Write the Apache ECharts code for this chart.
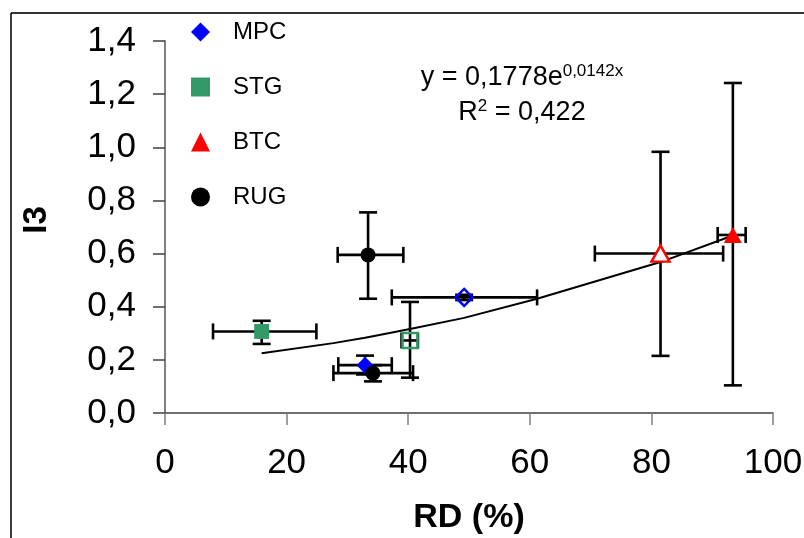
<!DOCTYPE html>
<html>
<head>
<meta charset="utf-8">
<script src="https://cdn.jsdelivr.net/npm/echarts@6/dist/echarts.min.js"></script>
<style>
html,body{margin:0;padding:0;background:#fff;}
#chart{width:804px;height:538px;}
</style>
</head>
<body>
<div id="chart"></div>
<script>
// ---- data ----
const seriesNames = ['MPC', 'STG', 'BTC', 'RUG'];
const xTicks = [0, 20, 40, 60, 80, 100];
const yTicks = [0, 0.2, 0.4, 0.6, 0.8, 1.0, 1.2, 1.4];

const MPC_RD    = [32.9, 49.2];
const MPC_I3    = [0.18, 0.435];
const MPC_RD_LO = [28.5, 37.3];
const MPC_RD_HI = [37.3, 61.2];
const MPC_I3_LO = [0.145, 0.425];
const MPC_I3_HI = [0.216, 0.445];
const MPC_FILLED = [true, false];

const STG_RD    = [15.9, 40.3];
const STG_I3    = [0.307, 0.273];
const STG_RD_LO = [7.9, 38.9];
const STG_RD_HI = [24.9, 41.6];
const STG_I3_LO = [0.26, 0.133];
const STG_I3_HI = [0.347, 0.418];
const STG_FILLED = [true, false];

const BTC_RD    = [81.5, 93.4];
const BTC_I3    = [0.60, 0.67];
const BTC_RD_LO = [70.7, 90.9];
const BTC_RD_HI = [91.8, 95.5];
const BTC_I3_LO = [0.215, 0.104];
const BTC_I3_HI = [0.983, 1.242];
const BTC_FILLED = [false, true];

const RUG_RD    = [33.4, 34.2];
const RUG_I3    = [0.595, 0.150];
const RUG_RD_LO = [28.4, 27.7];
const RUG_RD_HI = [39.2, 40.8];
const RUG_I3_LO = [0.43, 0.119];
const RUG_I3_HI = [0.755, 0.18];
const RUG_FILLED = [true, true];

// trend line (exponential fit) points
const TREND_RD = [15.9, 27.7, 32.9, 34.2, 40.3, 49.2, 61.2, 81.5, 93.4];
const TREND_I3 = [0.225, 0.263, 0.283, 0.289, 0.316, 0.358, 0.430, 0.568, 0.668];

const equationText = ['y = 0,1778e', '0,0142x'];
const r2Text = ['R', '2', ' = 0,422'];

// ---- build ----
const groups = {
  MPC: {rd: MPC_RD, i3: MPC_I3, rdLo: MPC_RD_LO, rdHi: MPC_RD_HI, i3Lo: MPC_I3_LO, i3Hi: MPC_I3_HI, filled: MPC_FILLED},
  STG: {rd: STG_RD, i3: STG_I3, rdLo: STG_RD_LO, rdHi: STG_RD_HI, i3Lo: STG_I3_LO, i3Hi: STG_I3_HI, filled: STG_FILLED},
  BTC: {rd: BTC_RD, i3: BTC_I3, rdLo: BTC_RD_LO, rdHi: BTC_RD_HI, i3Lo: BTC_I3_LO, i3Hi: BTC_I3_HI, filled: BTC_FILLED},
  RUG: {rd: RUG_RD, i3: RUG_I3, rdLo: RUG_RD_LO, rdHi: RUG_RD_HI, i3Lo: RUG_I3_LO, i3Hi: RUG_I3_HI, filled: RUG_FILLED}
};
const styleOf = {
  MPC: {symbol: 'diamond', size: [17, 17], color: '#0000FF', openFill: 'rgba(255,255,255,0)'},
  STG: {symbol: 'rect', size: [15, 15], color: '#339966', openFill: 'rgba(255,255,255,0)'},
  BTC: {symbol: 'triangle', size: [18, 16], color: '#FF0000', openFill: '#ffffff'},
  RUG: {symbol: 'circle', size: [15, 15], color: '#000000', openFill: '#ffffff'}
};

const errData = [];
seriesNames.forEach(n => {
  const g = groups[n];
  g.rd.forEach((x, i) => errData.push([x, g.i3[i], g.rdLo[i], g.rdHi[i], g.i3Lo[i], g.i3Hi[i]]));
});

const FONT = '"Liberation Sans", Arial, sans-serif';

const series = [];
series.push({
  type: 'custom',
  name: 'err',
  z: 3,
  clip: false,
  silent: true,
  encode: {x: [0, 2, 3], y: [1, 4, 5]},
  data: errData,
  renderItem: function (params, api) {
    const x = api.value(0), y = api.value(1);
    const xl = api.value(2), xh = api.value(3), yl = api.value(4), yh = api.value(5);
    const pL = api.coord([xl, y]), pR = api.coord([xh, y]);
    const pB = api.coord([x, yl]), pT = api.coord([x, yh]);
    const hc = 8, vc = 9;
    const st = {stroke: '#000', lineWidth: 2.6};
    const mk = (x1, y1, x2, y2) => ({type: 'line', shape: {x1, y1, x2, y2}, style: st});
    return {
      type: 'group',
      children: [
        mk(pL[0], pL[1], pR[0], pR[1]),
        mk(pL[0], pL[1] - hc, pL[0], pL[1] + hc),
        mk(pR[0], pR[1] - hc, pR[0], pR[1] + hc),
        mk(pB[0], pB[1], pT[0], pT[1]),
        mk(pB[0] - vc, pB[1], pB[0] + vc, pB[1]),
        mk(pT[0] - vc, pT[1], pT[0] + vc, pT[1])
      ]
    };
  }
});

series.push({
  type: 'line',
  name: 'trend',
  z: 2,
  symbol: 'none',
  silent: true,
  lineStyle: {color: '#000', width: 2},
  data: TREND_RD.map((x, i) => [x, TREND_I3[i]])
});

seriesNames.forEach(n => {
  const g = groups[n], s = styleOf[n];
  series.push({
    type: 'scatter',
    name: n,
    z: 4,
    symbol: s.symbol,
    symbolSize: s.size,
    itemStyle: {color: s.color, opacity: 1},
    data: g.rd.map((x, i) => ({
      value: [x, g.i3[i]],
      itemStyle: g.filled[i] ? {color: s.color, borderWidth: 0, opacity: 1}
                             : {color: s.openFill, borderColor: s.color, borderWidth: 2.5, opacity: 1}
    }))
  });
});

const chart = echarts.init(document.getElementById('chart'), null, {renderer: 'canvas'});
chart.setOption({
  animation: false,
  backgroundColor: '#fff',
  grid: {left: 165, top: 41, right: 31, bottom: 125, containLabel: false, outerBoundsMode: 'none'},
  xAxis: {
    type: 'value', min: xTicks[0], max: xTicks[xTicks.length - 1], interval: 20,
    name: 'RD (%)', nameLocation: 'middle', nameGap: 88,
    nameTextStyle: {fontFamily: FONT, fontSize: 34, fontWeight: 'bold', color: '#000'},
    axisLine: {show: true, lineStyle: {color: '#404040', width: 1.5}},
    axisTick: {show: true, inside: false, length: 12, lineStyle: {color: '#808080', width: 1.5}},
    axisLabel: {margin: 33, fontFamily: FONT, fontSize: 35, color: '#000'},
    splitLine: {show: false}
  },
  yAxis: {
    type: 'value', min: yTicks[0], max: yTicks[yTicks.length - 1], interval: 0.2,
    axisLine: {show: true, lineStyle: {color: '#808080', width: 2}},
    axisTick: {show: true, inside: false, length: 12, lineStyle: {color: '#404040', width: 1.5}},
    axisLabel: {margin: 29, fontFamily: FONT, fontSize: 35, color: '#000',
      formatter: v => v.toFixed(1).replace('.', ',')},
    splitLine: {show: false}
  },
  legend: {
    show: true,
    orient: 'vertical',
    left: 186, top: 15,
    itemWidth: 19, itemHeight: 19, itemGap: 31,
    data: seriesNames.map(n => ({name: n, icon: styleOf[n].symbol, itemStyle: {color: styleOf[n].color, opacity: 1}})),
    textStyle: {fontFamily: FONT, fontSize: 24, color: '#000', padding: [0, 0, 0, 18]},
    selectedMode: false
  },
  graphic: [
    {type: 'line', shape: {x1: 11, y1: 13, x2: 804, y2: 13}, style: {stroke: '#333', lineWidth: 2}, silent: true},
    {type: 'line', shape: {x1: 11, y1: 13, x2: 11, y2: 538}, style: {stroke: '#000', lineWidth: 1.5}, silent: true},
    {type: 'text', x: 37, y: 220, rotation: Math.PI / 2, silent: true,
      style: {text: 'I3', fontFamily: FONT, fontSize: 33, fontWeight: 'bold', fill: '#000', align: 'center', verticalAlign: 'middle'}},
    {type: 'text', x: 522, y: 78, silent: true,
      style: {
        text: '{a|' + equationText[0] + '}{s|' + equationText[1] + '}',
        align: 'center', verticalAlign: 'middle',
        rich: {
          a: {fontFamily: FONT, fontSize: 27, fill: '#000'},
          s: {fontFamily: FONT, fontSize: 17, fill: '#000', padding: [0, 0, 14, 0]}
        }
      }},
    {type: 'text', x: 522, y: 113, silent: true,
      style: {
        text: '{a|' + r2Text[0] + '}{s|' + r2Text[1] + '}{a|' + r2Text[2] + '}',
        align: 'center', verticalAlign: 'middle',
        rich: {
          a: {fontFamily: FONT, fontSize: 27, fill: '#000'},
          s: {fontFamily: FONT, fontSize: 17, fill: '#000', padding: [0, 0, 14, 0]}
        }
      }}
  ],
  series: series
});
</script>
</body>
</html>
